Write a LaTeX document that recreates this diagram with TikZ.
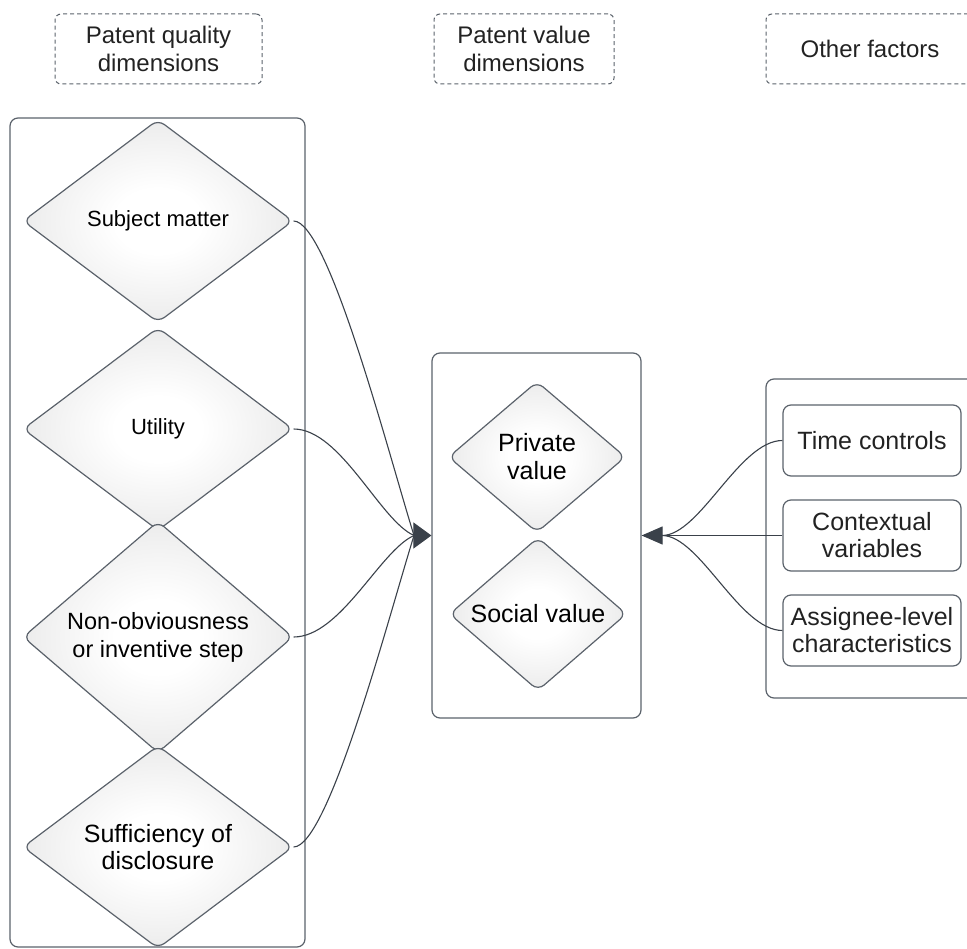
\documentclass[tikz,border=0pt]{standalone}
\usepackage{fontspec}
\setmainfont{Liberation Sans}
\usetikzlibrary{shapes.geometric,arrows.meta}
\definecolor{edgegray}{HTML}{3A414A}
\definecolor{linegray}{HTML}{5B626B}
\definecolor{shadegray}{HTML}{D2D2D2}
\definecolor{textgray}{HTML}{222222}
\pgfdeclareradialshading{dmshade}{\pgfpoint{0bp}{0bp}}{color(0bp)=(white); color(8bp)=(white); color(48bp)=(shadegray); color(100bp)=(shadegray)}

\begin{document}
\begin{tikzpicture}[x=1pt, y=-1pt,
        hdr/.style={draw=linegray, line width=1pt, dash pattern=on 4pt off 3pt, rounded corners=6pt,
          minimum height=70pt, align=center, text=textgray, font=\fontsize{24}{28}\selectfont},
        grp/.style={draw=linegray, line width=1.2pt, rounded corners=8pt},
        dm/.style={diamond, draw=linegray, line width=1.2pt, rounded corners=8pt, shading=dmshade,
          align=center, inner sep=0pt, text=black},
        qdm/.style={dm, minimum width=270pt, minimum height=203pt},
        vdm/.style={dm, minimum width=177pt, minimum height=151pt, font=\fontsize{25}{28}\selectfont},
        facbox/.style={draw=linegray, line width=1.2pt, rounded corners=8pt, minimum width=178pt,
          minimum height=71pt, align=center, inner sep=0pt, text=textgray, font=\fontsize{25}{27}\selectfont},
        edge/.style={draw=edgegray, line width=1.1pt},
        tipl/.style={edge, -{Triangle[length=18pt, width=26pt]}},
        tipr/.style={edge, -{Triangle[length=21pt, width=18pt]}}
      ]
      \clip (0, 0) rectangle (967, 949);

      % headers
      \node[hdr, minimum width=207pt] at (158.5, 49) (h1) {Patent quality\\dimensions};
      \node[hdr, minimum width=180pt] at (524, 49) (h2) {Patent value\\dimensions};
      \node[hdr, minimum width=208pt] at (870, 49) (h3) {Other factors};

      % left side
      \node[grp, minimum width=295pt, minimum height=829pt] at (157.5, 532.5) (qbox) {};
      \node[qdm, font=\fontsize{22}{26}\selectfont] at (158, 221) (sm) {Subject matter};
      \node[qdm, font=\fontsize{22}{26}\selectfont] at (158, 429) (ut) {Utility};
      \node[qdm, font=\fontsize{23.5}{28}\selectfont] at (158, 637) (no) {Non-obviousness\\or inventive step};
      \node[qdm, font=\fontsize{25}{27}\selectfont] at (158, 847) (sd) {Sufficiency of\\disclosure};

      % middle
      \node[grp, minimum width=209pt, minimum height=365pt] at (536.5, 535.5) (vbox) {};
      \node[vdm] at (537, 457) (pv) {Private\\value};
      \node[vdm] at (538, 614) (sv) {Social value};

      % right side
      \node[grp, minimum width=224pt, minimum height=319pt] at (878, 538.5) (obox) {};
      \node[facbox] at (872, 440.5) (tc) {Time controls};
      \node[facbox] at (872, 535.5) (cv) {Contextual\\variables};
      \node[facbox] at (872, 630.5) (ac) {Assignee-level\\characteristics};

      % edges
      \coordinate (qin) at (414, 535.5);
      \draw[edge] (sm.east) .. controls +(35, 0) and +(-25, -80) .. (qin);
      \draw[edge] (ut.east) .. controls +(47, 0) and +(-34, -15) .. (qin);
      \draw[edge] (no.east) .. controls +(47, 0) and +(-34, 15) .. (qin);
      \draw[edge] (sd.east) .. controls +(35, 0) and +(-25, 80) .. (qin);
      \draw[tipl] (qin) -- (vbox.west);

      \coordinate (rin) at (662, 535.5);
      \draw[edge] (tc.west) .. controls +(-43, 0) and +(38, 0) .. (rin);
      \draw[edge] (ac.west) .. controls +(-43, 0) and +(38, 0) .. (rin);
      \draw[tipr] (cv.west) -- (vbox.east);
  \end{tikzpicture}
\end{document}
